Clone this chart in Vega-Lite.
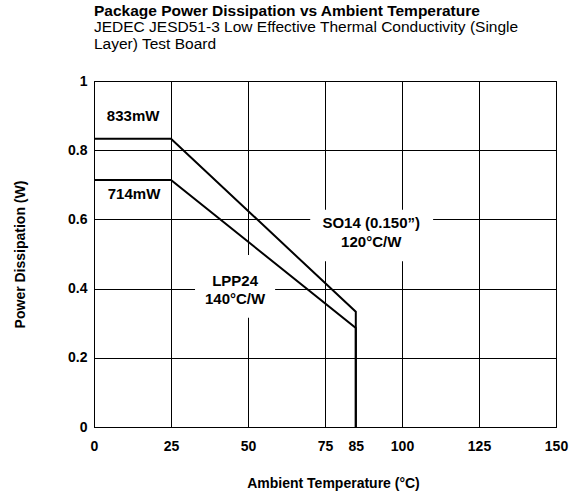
{
  "$schema": "https://vega.github.io/schema/vega-lite/v6.json",
  "width": 462,
  "height": 346,
  "autosize": "none",
  "padding": {"left": 94, "top": 81, "right": 23, "bottom": 68},
  "background": "white",
  "config": {
    "font": "Liberation Sans",
    "view": {"stroke": "black", "strokeWidth": 1}
  },
  "title": {
    "text": "Package Power Dissipation vs Ambient Temperature",
    "subtitle": ["JEDEC JESD51-3 Low Effective Thermal Conductivity (Single", "Layer) Test Board"],
    "anchor": "start",
    "frame": "group",
    "font": "Liberation Sans",
    "fontSize": 15.5,
    "fontWeight": "bold",
    "color": "black",
    "subtitleFont": "Liberation Sans",
    "subtitleFontSize": 15.5,
    "subtitleFontWeight": "normal",
    "subtitleColor": "black",
    "subtitleLineHeight": 16.5,
    "subtitlePadding": 1,
    "offset": 22
  },
  "datasets": {
    "boxes": [
      {"T1": 1.6, "T2": 23.7, "P1": 0.87, "P2": 0.93},
      {"T1": 0.4, "T2": 24.8, "P1": 0.645, "P2": 0.705},
      {"T1": 70.2, "T2": 110.1, "P1": 0.479, "P2": 0.628},
      {"T1": 32.8, "T2": 58.8, "P1": 0.316, "P2": 0.497}
    ],
    "curves": [
      {"package": "SO14", "order": 1, "T": 0, "P": 0.833},
      {"package": "SO14", "order": 2, "T": 25, "P": 0.833},
      {"package": "SO14", "order": 3, "T": 85, "P": 0.333},
      {"package": "SO14", "order": 4, "T": 85, "P": 0},
      {"package": "LPP24", "order": 1, "T": 0, "P": 0.714},
      {"package": "LPP24", "order": 2, "T": 25, "P": 0.714},
      {"package": "LPP24", "order": 3, "T": 85, "P": 0.286},
      {"package": "LPP24", "order": 4, "T": 85, "P": 0}
    ],
    "labels": [
      {"T": 12.7, "P": 0.9, "label": "833mW"},
      {"T": 13.0, "P": 0.673, "label": "714mW"},
      {"T": 90.0, "P": 0.59, "label": "SO14 (0.150”)"},
      {"T": 90.0, "P": 0.536, "label": "120°C/W"},
      {"T": 45.8, "P": 0.4234, "label": "LPP24"},
      {"T": 45.8, "P": 0.3705, "label": "140°C/W"}
    ]
  },
  "layer": [
    {
      "data": {"name": "boxes"},
      "mark": {"type": "rect", "fill": "white", "stroke": null},
      "encoding": {
        "x": {
          "field": "T1", "type": "quantitative",
          "scale": {"domain": [0, 150], "nice": false, "zero": false},
          "axis": {
            "title": "Ambient Temperature (°C)",
            "values": [0, 25, 50, 75, 85, 100, 125, 150],
            "ticks": false,
            "grid": true,
            "gridColor": "black",
            "gridWidth": 1,
            "gridOpacity": {"condition": {"test": "datum.value == 85", "value": 0}, "value": 1},
            "domainColor": "black",
            "labelFont": "Liberation Sans",
            "labelFontSize": 14,
            "labelFontWeight": "bold",
            "labelColor": "black",
            "labelPadding": 12,
            "labelFlush": false,
            "labelBound": false,
            "labelOverlap": false,
            "format": "~f",
            "titleFont": "Liberation Sans",
            "titleFontSize": 14,
            "titleFontWeight": "bold",
            "titleColor": "black",
            "titlePadding": 23,
            "titleX": 239
          }
        },
        "x2": {"field": "T2"},
        "y": {
          "field": "P1", "type": "quantitative",
          "scale": {"domain": [0, 1], "nice": false, "zero": false},
          "axis": {
            "title": "Power Dissipation (W)",
            "values": [0, 0.1, 0.2, 0.3, 0.4, 0.5, 0.6, 0.7, 0.8, 0.9, 1],
            "labelExpr": "round(datum.value * 10) % 2 == 0 ? format(datum.value, '~f') : ''",
            "ticks": false,
            "grid": true,
            "gridColor": "black",
            "gridWidth": 1,
            "gridOpacity": 1,
            "domainColor": "black",
            "labelFont": "Liberation Sans",
            "labelFontSize": 14,
            "labelFontWeight": "bold",
            "labelColor": "black",
            "labelPadding": 7,
            "labelFlush": false,
            "labelBound": false,
            "labelOverlap": false,
            "titleFont": "Liberation Sans",
            "titleFontSize": 14,
            "titleFontWeight": "bold",
            "titleColor": "black",
            "titlePadding": 40
          }
        },
        "y2": {"field": "P2"}
      }
    },
    {
      "data": {"name": "curves"},
      "mark": {"type": "line", "color": "black", "strokeWidth": 2, "clip": false},
      "encoding": {
        "x": {"field": "T", "type": "quantitative"},
        "y": {"field": "P", "type": "quantitative"},
        "detail": {"field": "package"},
        "order": {"field": "order", "type": "quantitative"}
      }
    },
    {
      "data": {"name": "labels"},
      "mark": {"type": "text", "font": "Liberation Sans", "fontSize": 15, "fontWeight": "bold", "color": "black", "align": "center", "baseline": "middle"},
      "encoding": {
        "x": {"field": "T", "type": "quantitative"},
        "y": {"field": "P", "type": "quantitative"},
        "text": {"field": "label"}
      }
    }
  ]
}
